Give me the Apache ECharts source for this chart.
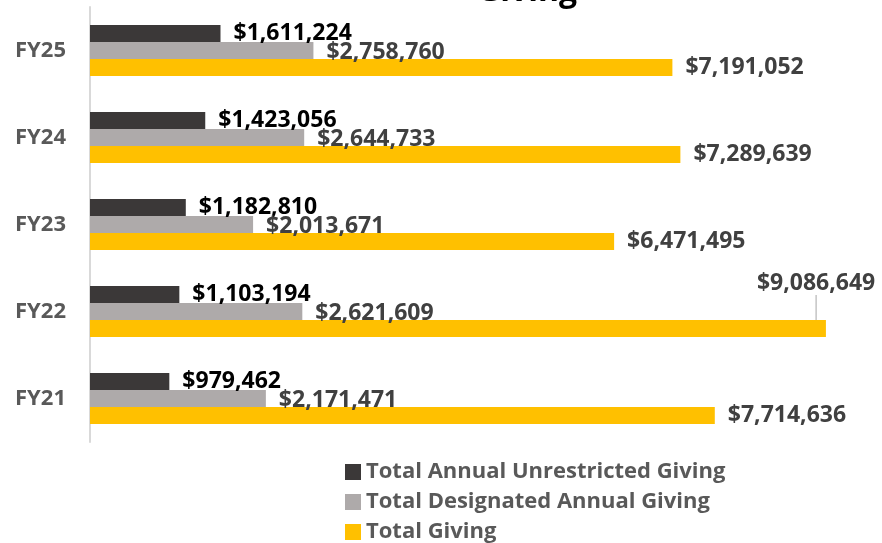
<!DOCTYPE html>
<html>
<head>
<meta charset="utf-8">
<script src="https://cdn.jsdelivr.net/npm/echarts@6/dist/echarts.min.js"></script>
<style>
  html, body { margin: 0; padding: 0; background: #fff; }
  #chart { width: 882px; height: 543px; }
</style>
</head>
<body>
<div id="chart"></div>
<script>
const years = ["FY25", "FY24", "FY23", "FY22", "FY21"];
const unrestricted = [1611224, 1423056, 1182810, 1103194, 979462];
const designated = [2758760, 2644733, 2013671, 2621609, 2171471];
const totalGiving = [7191052, 7289639, 6471495, 9086649, 7714636];

const font = "'Open Sans', 'DejaVu Sans', sans-serif";
const money = v => "$" + v.value.toLocaleString("en-US");
const topTotal = Math.max(...totalGiving);

const chart = echarts.init(document.getElementById("chart"));

const labelStyle = color => ({
    show: true,
    position: "right",
    distance: 13,
    formatter: money,
    fontFamily: font,
    fontSize: 23,
    fontWeight: "bold",
    color: color
});

const option = {
    backgroundColor: "#fff",
    animation: false,
    title: {
        text: "Giving",
        left: 522,
        textAlign: "center",
        top: -29,
        textStyle: { fontFamily: font, fontSize: 32, fontWeight: "bold", color: "#000" }
    },
    grid: { left: 90, right: 55, top: 7, bottom: 101 },
    xAxis: {
        type: "value",
        min: 0,
        max: 9100000,
        show: false
    },
    yAxis: {
        type: "category",
        inverse: true,
        data: years,
        axisLine: { show: true, lineStyle: { color: "#d9d9d9", width: 2 } },
        axisTick: { show: false },
        axisLabel: {
            margin: 24,
            fontFamily: font,
            fontSize: 22,
            fontWeight: "bold",
            color: "#595959"
        }
    },
    legend: {
        orient: "vertical",
        left: 345,
        top: 461,
        padding: 0,
        itemWidth: 16,
        itemHeight: 16,
        itemGap: 8,
        icon: "rect",
        textStyle: { fontFamily: font, fontSize: 22, lineHeight: 21, fontWeight: "bold", color: "#595959" },
        data: ["Total Annual Unrestricted Giving", "Total Designated Annual Giving", "Total Giving"]
    },
    series: [{
        type: "bar",
        name: "Total Annual Unrestricted Giving",
        data: unrestricted,
        barWidth: 17,
        barGap: "0%",
        itemStyle: { color: "#3b3838" },
        label: labelStyle("#000")
    }, {
        type: "bar",
        name: "Total Designated Annual Giving",
        data: designated,
        barWidth: 17,
        barGap: "0%",
        itemStyle: { color: "#aeaaaa" },
        label: Object.assign(labelStyle("#404040"), { offset: [0, 2] })
    }, {
        type: "bar",
        name: "Total Giving",
        data: totalGiving.map(v => v === topTotal ? { value: v, labelLine: { show: true } } : v),
        barWidth: 17,
        barGap: "0%",
        itemStyle: { color: "#ffc000" },
        label: labelStyle("#404040"),
        labelLine: { show: false, lineStyle: { color: "#a6a6a6", width: 1 } },
        labelLayout: params => totalGiving[params.dataIndex] === topTotal ? { dx: -82, dy: -45 } : {}
    }]
};

chart.setOption(option);
</script>
</body>
</html>
